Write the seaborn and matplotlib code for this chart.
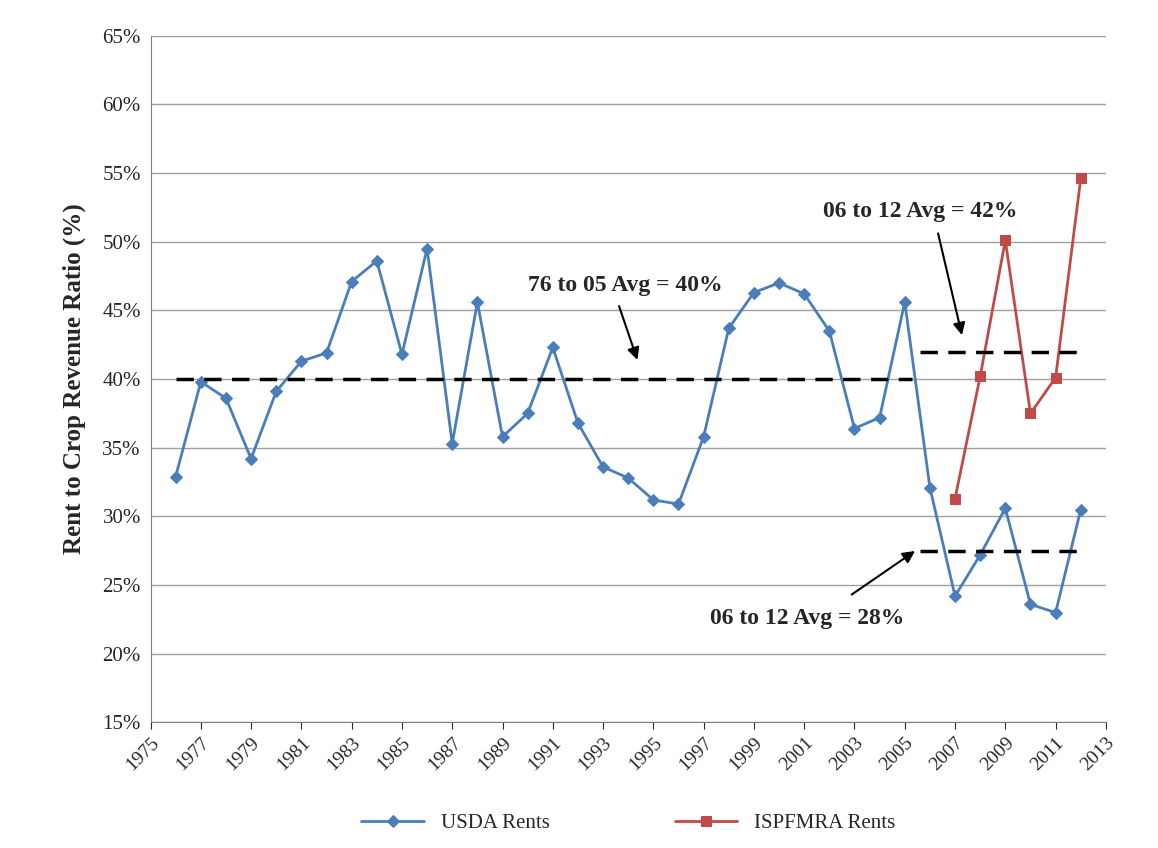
import numpy as np
import pandas as pd
import seaborn as sns
import matplotlib.pyplot as plt

usda_years = list(range(1976, 2013))
usda_vals = [32.9, 39.8, 38.6, 34.2, 39.1, 41.3, 41.9, 47.1, 48.6, 41.8, 49.5,
             35.3, 45.6, 35.8, 37.5, 42.3, 36.8, 33.6, 32.8, 31.2, 30.9, 35.8,
             43.7, 46.3, 47.0, 46.2, 43.5, 36.4, 37.2, 45.6, 32.1, 24.2, 27.2,
             30.6, 23.6, 23.0, 30.5]
isp_years = [2007, 2008, 2009, 2010, 2011, 2012]
isp_vals = [31.3, 40.2, 50.1, 37.5, 40.1, 54.6]

avg_early = (1976, 2005.3, 40.0)
avg_isp = (2005.6, 2012, 42.0)
avg_usda = (2005.6, 2012, 27.5)

sns.set_style("white")
plt.rcParams['font.family'] = ['Liberation Serif', 'DejaVu Serif']

fig, ax = plt.subplots(figsize=(11.58, 8.48), dpi=100)
fig.subplots_adjust(left=0.13, right=0.955, top=0.958, bottom=0.148)

blue = '#4a7ebb'
red = '#be4b48'
sns.lineplot(x=usda_years, y=usda_vals, ax=ax, color=blue, marker='D',
             markersize=6, markeredgecolor=blue, linewidth=2, label='USDA Rents')
sns.lineplot(x=isp_years, y=isp_vals, ax=ax, color=red, marker='s',
             markersize=7, markeredgecolor=red, linewidth=2, label='ISPFMRA Rents')

for x0, x1, yv in [avg_early, avg_isp, avg_usda]:
    ax.plot([x0, x1], [yv, yv], color='black', linestyle=(0, (5, 3)), linewidth=2.5)

kw = dict(fontsize=17, fontweight='bold', ha='center', va='center')
ax.text(1993.9, 46.8, '76 to 05 Avg = 40%', **kw)
ax.text(2005.6, 52.2, '06 to 12 Avg = 42%', **kw)
ax.text(2001.1, 22.6, '06 to 12 Avg = 28%', **kw)
ap = dict(arrowstyle='-|>', color='black', lw=1.5, mutation_scale=18)
ax.annotate('', xy=(1994.4, 41.2), xytext=(1993.6, 45.5), arrowprops=ap)
ax.annotate('', xy=(2007.3, 43.0), xytext=(2006.3, 50.8), arrowprops=ap)
ax.annotate('', xy=(2005.5, 27.6), xytext=(2002.8, 24.2), arrowprops=ap)

ax.set_xlim(1975, 2013)
ax.set_ylim(15, 65)
ax.set_xticks(range(1975, 2014, 2))
ax.set_xticklabels([str(y) for y in range(1975, 2014, 2)], rotation=45,
                   ha='right', rotation_mode='anchor', fontsize=14)
ax.set_yticks(range(15, 66, 5))
ax.set_yticklabels([f'{v}%' for v in range(15, 66, 5)], fontsize=15)
ax.yaxis.grid(True, color='#a0a0a0', linewidth=1)
ax.set_ylabel('Rent to Crop Revenue Ratio (%)', fontsize=18, fontweight='bold', labelpad=12)
ax.tick_params(axis='x', length=5, direction='out', bottom=True)
for s in ['top', 'right']:
    ax.spines[s].set_visible(False)
for s in ['left', 'bottom']:
    ax.spines[s].set_color('#808080')

ax.legend(loc='upper center', bbox_to_anchor=(0.5, -0.105), ncol=2, frameon=False,
          fontsize=15, columnspacing=6, handlelength=3)

fig.savefig('out.png', dpi=100)
